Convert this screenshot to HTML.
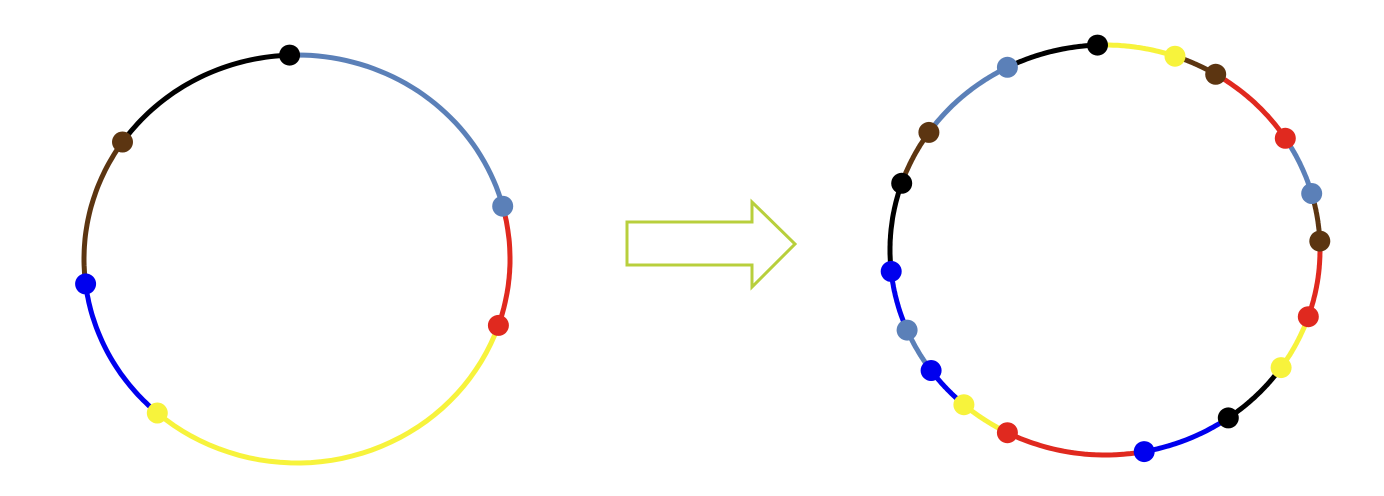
<!DOCTYPE html>
<html>
<head>
<meta charset="utf-8">
<style>
html,body{margin:0;padding:0;background:#fff;}
svg{display:block;}
</style>
</head>
<body>
<svg id="chart" width="1384" height="496" viewBox="0 0 1384 496" xmlns="http://www.w3.org/2000/svg">
  <g id="left-ring"></g>
  <polygon points="627,222 752,222 752,202 795,244 752,287 752,265 627,265" fill="none" stroke="#b8cf3c" stroke-width="3"/>
  <g id="right-ring"></g>
</svg>
<script>
// Node angles (degrees, clockwise from east) and colours
const leftAngles = [-92, -15, 19, 131, 173, 215];
const leftColors = ["black", "steel", "red", "yellow", "blue", "brown"];
const rightAngles = [-92, -71, -59, -33, -16, -2.5, 19, 35, 55, 79.5, 117, 131, 144, 157, 174, 199, 215, 243];
const rightColors = ["black", "yellow", "brown", "red", "steel", "brown", "red", "yellow", "black", "blue", "red", "yellow", "blue", "steel", "blue", "black", "brown", "steel"];

const palette = {black:"#000000", steel:"#5b80b8", red:"#e0291f", yellow:"#f7f33c", blue:"#0000ee", brown:"#5c3511"};
const NS = "http://www.w3.org/2000/svg";

function drawRing(gId, cx, cy, rx, ry, angles, colors, prefix) {
  const g = document.getElementById(gId);
  const pt = a => { const r = a * Math.PI / 180; return [cx + rx * Math.cos(r), cy + ry * Math.sin(r)]; };
  const n = angles.length;
  for (let i = 0; i < n; i++) {
    const a0 = angles[i];
    let a1 = angles[(i + 1) % n];
    if (a1 <= a0) a1 += 360;
    const pts = [];
    for (let k = 0; k <= 40; k++) pts.push(pt(a0 + (a1 - a0) * k / 40).map(v => v.toFixed(1)).join(","));
    const pl = document.createElementNS(NS, "polyline");
    pl.setAttribute("points", pts.join(" "));
    pl.setAttribute("fill", "none");
    pl.setAttribute("stroke", palette[colors[(i + 1) % n]]);
    pl.setAttribute("stroke-width", "5");
    
    
    g.appendChild(pl);
  }
  for (let i = 0; i < n; i++) {
    const [x, y] = pt(angles[i]);
    const c = document.createElementNS(NS, "circle");
    c.setAttribute("cx", x.toFixed(1));
    c.setAttribute("cy", y.toFixed(1));
    c.setAttribute("r", "10.5");
    c.setAttribute("fill", palette[colors[i]]);
    
    
    g.appendChild(c);
  }
}
drawRing("left-ring", 297, 259, 213, 204, leftAngles, leftColors, "left-ring");
drawRing("right-ring", 1105, 250, 215, 205, rightAngles, rightColors, "right-ring");
</script>
</body>
</html>
